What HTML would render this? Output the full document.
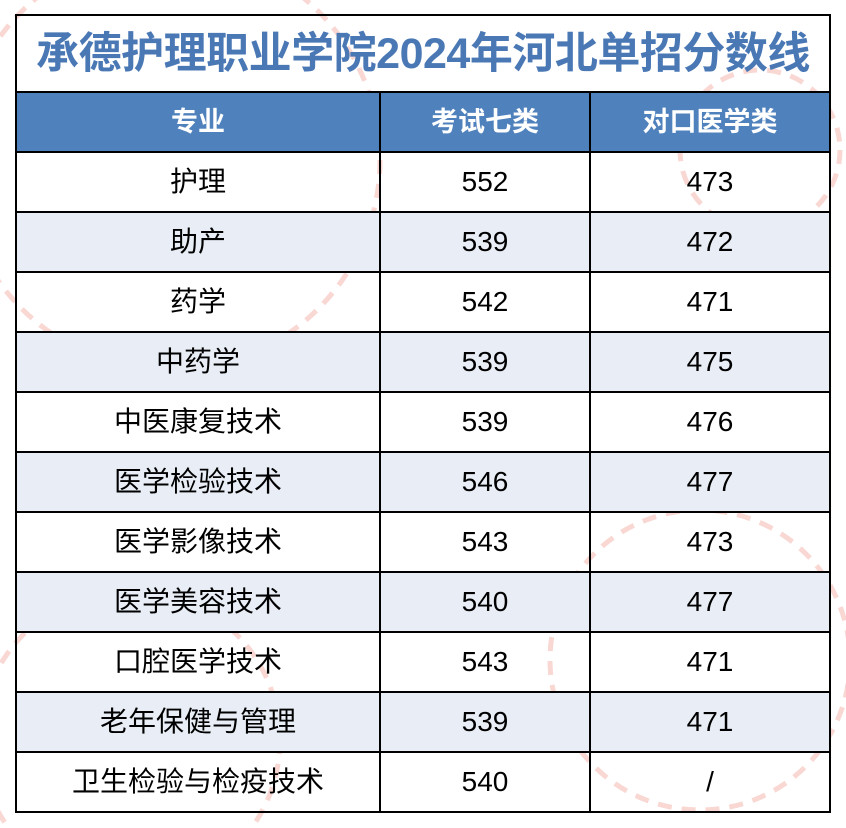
<!DOCTYPE html>
<html><head><meta charset="utf-8"><style>
body{margin:0;width:846px;height:828px;background:#fff;position:relative;overflow:hidden;font-family:"Liberation Sans","Noto Sans CJK SC",sans-serif}
.t{position:absolute;left:15px;top:14px;width:816px;border-collapse:collapse}
.t td{border:2px solid #000;text-align:center;padding:0;font-size:28px;color:#000;height:58px;line-height:30px}
.title td{height:75px;font-size:43px;font-weight:bold;color:#4a78b5;line-height:46px;letter-spacing:-0.5px}
.hd td{background:#4f81bd;color:#fff;font-weight:bold;font-size:27px}
.s td{background:#e9eef6}
</style></head><body>
<svg style="position:absolute;left:0;top:0" width="846" height="828">
<g fill="none" stroke="#f6c6c0" stroke-width="5" stroke-dasharray="14 10" opacity="0.7">
<circle cx="170" cy="160" r="210"/><circle cx="700" cy="660" r="150"/><circle cx="130" cy="740" r="150"/><circle cx="760" cy="150" r="80"/>
</g></svg>
<table class="t">
<tr class="title"><td colspan="3">承德护理职业学院2024年河北单招分数线</td></tr>
<tr class="hd"><td style="width:362px">专业</td><td style="width:208px">考试七类</td><td>对口医学类</td></tr>
<tr><td>护理</td><td>552</td><td>473</td></tr>
<tr class="s"><td>助产</td><td>539</td><td>472</td></tr>
<tr><td>药学</td><td>542</td><td>471</td></tr>
<tr class="s"><td>中药学</td><td>539</td><td>475</td></tr>
<tr><td>中医康复技术</td><td>539</td><td>476</td></tr>
<tr class="s"><td>医学检验技术</td><td>546</td><td>477</td></tr>
<tr><td>医学影像技术</td><td>543</td><td>473</td></tr>
<tr class="s"><td>医学美容技术</td><td>540</td><td>477</td></tr>
<tr><td>口腔医学技术</td><td>543</td><td>471</td></tr>
<tr class="s"><td>老年保健与管理</td><td>539</td><td>471</td></tr>
<tr><td>卫生检验与检疫技术</td><td>540</td><td>/</td></tr>
</table>
</body></html>
